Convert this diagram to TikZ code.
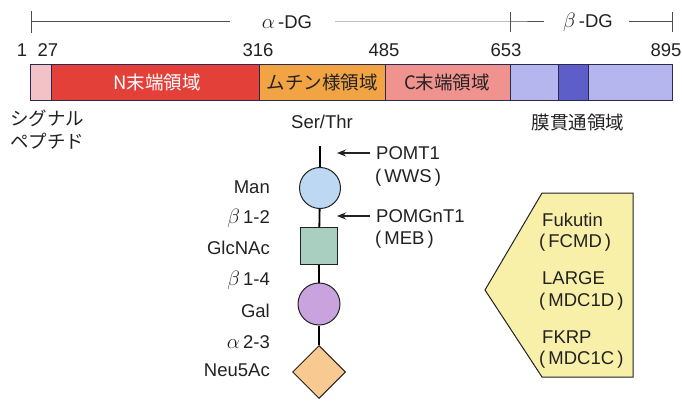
\documentclass[tikz,border=0pt]{standalone}
\usepackage{fontspec}
\setmainfont{Liberation Sans}
\newfontfamily\jp{Noto Sans CJK JP}
\usetikzlibrary{arrows.meta,shapes.geometric}
\definecolor{sigc}{HTML}{F2C2C6}
\definecolor{nc}{HTML}{E4403A}
\definecolor{mucc}{HTML}{F2A444}
\definecolor{cc}{HTML}{F0938F}
\definecolor{lavc}{HTML}{B6B6EE}
\definecolor{darkc}{HTML}{5E5EC8}
\definecolor{barline}{HTML}{2A2A50}
\definecolor{manc}{HTML}{BCD8F2}
\definecolor{glcc}{HTML}{A8CFC0}
\definecolor{galc}{HTML}{C9A3DD}
\definecolor{neuc}{HTML}{F8CA92}
\definecolor{yelc}{HTML}{F8F0A8}
\definecolor{txt}{HTML}{222222}
\newcommand{\galpha}{\scalebox{1.2}{$\alpha$}}
\newcommand{\gbeta}{\scalebox{1.2}{$\beta$}}
\begin{document}
\begin{tikzpicture}[x=1pt,y=-1pt,
  lat/.style={font=\fontsize{18.5}{21}\selectfont, text=txt, inner sep=2pt},
  jpt/.style={font=\jp\fontsize{18.5}{21}\selectfont, text=txt, inner sep=2pt},
  seg/.style={draw=barline, line width=0.9pt, inner sep=0pt, outer sep=0pt,
              minimum height=36pt, anchor=west},
  scaleline/.style={draw=txt!80, line width=1pt},
  chainline/.style={draw=black, line width=1.8pt},
  glyc/.style={draw=txt, line width=1pt, inner sep=0pt},
  arr/.style={draw=txt, line width=1.1pt, -{Stealth[length=9pt,width=7pt]}}]
\useasboundingbox (0,0) rectangle (682,401);
\fill[white] (0,0) rectangle (682,401);

% top scale
\node[lat] (adg) at (287,22) {\galpha\,-DG};
\node[lat] (bdg) at (588,22) {\gbeta\,-DG};
\coordinate (s0) at (31.5,22);
\coordinate (s1) at (510,22);
\coordinate (s2) at (672,22);
\coordinate (a1) at (230,22);
\coordinate (a2) at (335,22);
\coordinate (b1) at (544,22);
\coordinate (b2) at (629,22);
\draw[scaleline] (s0) -- (a1);
\draw[scaleline] (a2) -- (s1) -- (b1);
\draw[scaleline] (b2) -- (s2);
\draw[scaleline] ([yshift=-11pt]s0) -- ([yshift=11pt]s0);
\draw[scaleline] ([yshift=-10pt]s1) -- ([yshift=10pt]s1);
\draw[scaleline] ([yshift=-10pt]s2) -- ([yshift=10pt]s2);

% numbers
\node[lat] (n1) at (22,50) {1};
\node[lat] (n27) at (48,50) {27};
\node[lat] (n316) at (258,50) {316};
\node[lat] (n485) at (384,50) {485};
\node[lat] (n653) at (506,50) {653};
\node[lat] (n895) at (666,50) {895};

% bar
\node[seg, fill=sigc, minimum width=21pt] (sig) at (30,82) {};
\node[seg, fill=nc, minimum width=208pt] (nterm) at (sig.east) {};
\node[seg, fill=mucc, minimum width=126pt] (muc) at (nterm.east) {};
\node[seg, fill=cc, minimum width=125pt] (cterm) at (muc.east) {};
\node[seg, fill=lavc, minimum width=48pt] (tm1) at (cterm.east) {};
\node[seg, fill=darkc, minimum width=30pt] (tm2) at (tm1.east) {};
\node[seg, fill=lavc, minimum width=84pt] (tm3) at (tm2.east) {};
\node[jpt, text=white] at (157,82) {N末端領域};
\node[jpt] at (322,82) {ムチン様領域};
\node[jpt] at (447,82) {C末端領域};

% labels under bar
\node[jpt, anchor=west] (sigl1) at (8,118) {シグナル};
\node[jpt, anchor=west] (sigl2) at (8,141) {ペプチド};
\node[lat] (serthr) at (322,122) {Ser/Thr};
\node[jpt] (tml) at (578,122) {膜貫通領域};

% glycan chain
\coordinate (st) at (320,146);
\node[glyc, circle, fill=manc, minimum size=41pt] (man) at (320,188) {};
\node[glyc, rectangle, fill=glcc, minimum size=37pt] (glc) at (319,246) {};
\node[glyc, circle, fill=galc, minimum size=42pt] (gal) at (319,304) {};
\node[glyc, diamond, fill=neuc, minimum size=53pt] (neu) at (319,372) {};
\draw[chainline] (st) -- (man);
\draw[chainline] (man) -- (glc);
\draw[chainline] (glc) -- (gal);
\draw[chainline] (gal) -- (neu);

\node[lat, anchor=east] (lman) at (272,187) {Man};
\node[lat, anchor=east] (lb12) at (272,218) {\gbeta\,1-2};
\node[lat, anchor=east] (lglc) at (272,248) {GlcNAc};
\node[lat, anchor=east] (lb14) at (272,280) {\gbeta\,1-4};
\node[lat, anchor=east] (lgal) at (272,311) {Gal};
\node[lat, anchor=east] (la23) at (272,342) {\galpha\,2-3};
\node[lat, anchor=east] (lneu) at (272,370) {Neu5Ac};

% enzymes
\node[lat, anchor=west, inner sep=6pt] (pomt) at (370,153) {POMT1};
\node[lat, anchor=west] (wws) at (373,178) {(\,WWS\,)};
\node[lat, anchor=west, inner sep=6pt] (pomg) at (370,216) {POMGnT1};
\node[lat, anchor=west] (meb) at (373,240) {(\,MEB\,)};
\coordinate (t1) at (337,153);
\coordinate (t2) at (337,216);
\draw[arr] (pomt.west) -- (t1);
\draw[arr] (pomg.west) -- (t2);

% pentagon
\coordinate (p1) at (485,290);
\coordinate (p2) at (542,193);
\coordinate (p3) at (633,193);
\coordinate (p4) at (633,377);
\coordinate (p5) at (542,377);
\draw[draw=txt, line width=1pt, fill=yelc] (p1) -- (p2) -- (p3) -- (p4) -- (p5) -- cycle;
\node[lat, anchor=west] (fk) at (540,220) {Fukutin};
\node[lat, anchor=west] (fcmd) at (537,243) {(\,FCMD\,)};
\node[lat, anchor=west] (lg) at (540,278) {LARGE};
\node[lat, anchor=west] (m1d) at (537,302) {(\,MDC1D\,)};
\node[lat, anchor=west] (fkrp) at (540,337) {FKRP};
\node[lat, anchor=west] (m1c) at (537,360) {(\,MDC1C\,)};
\end{tikzpicture}
\end{document}
